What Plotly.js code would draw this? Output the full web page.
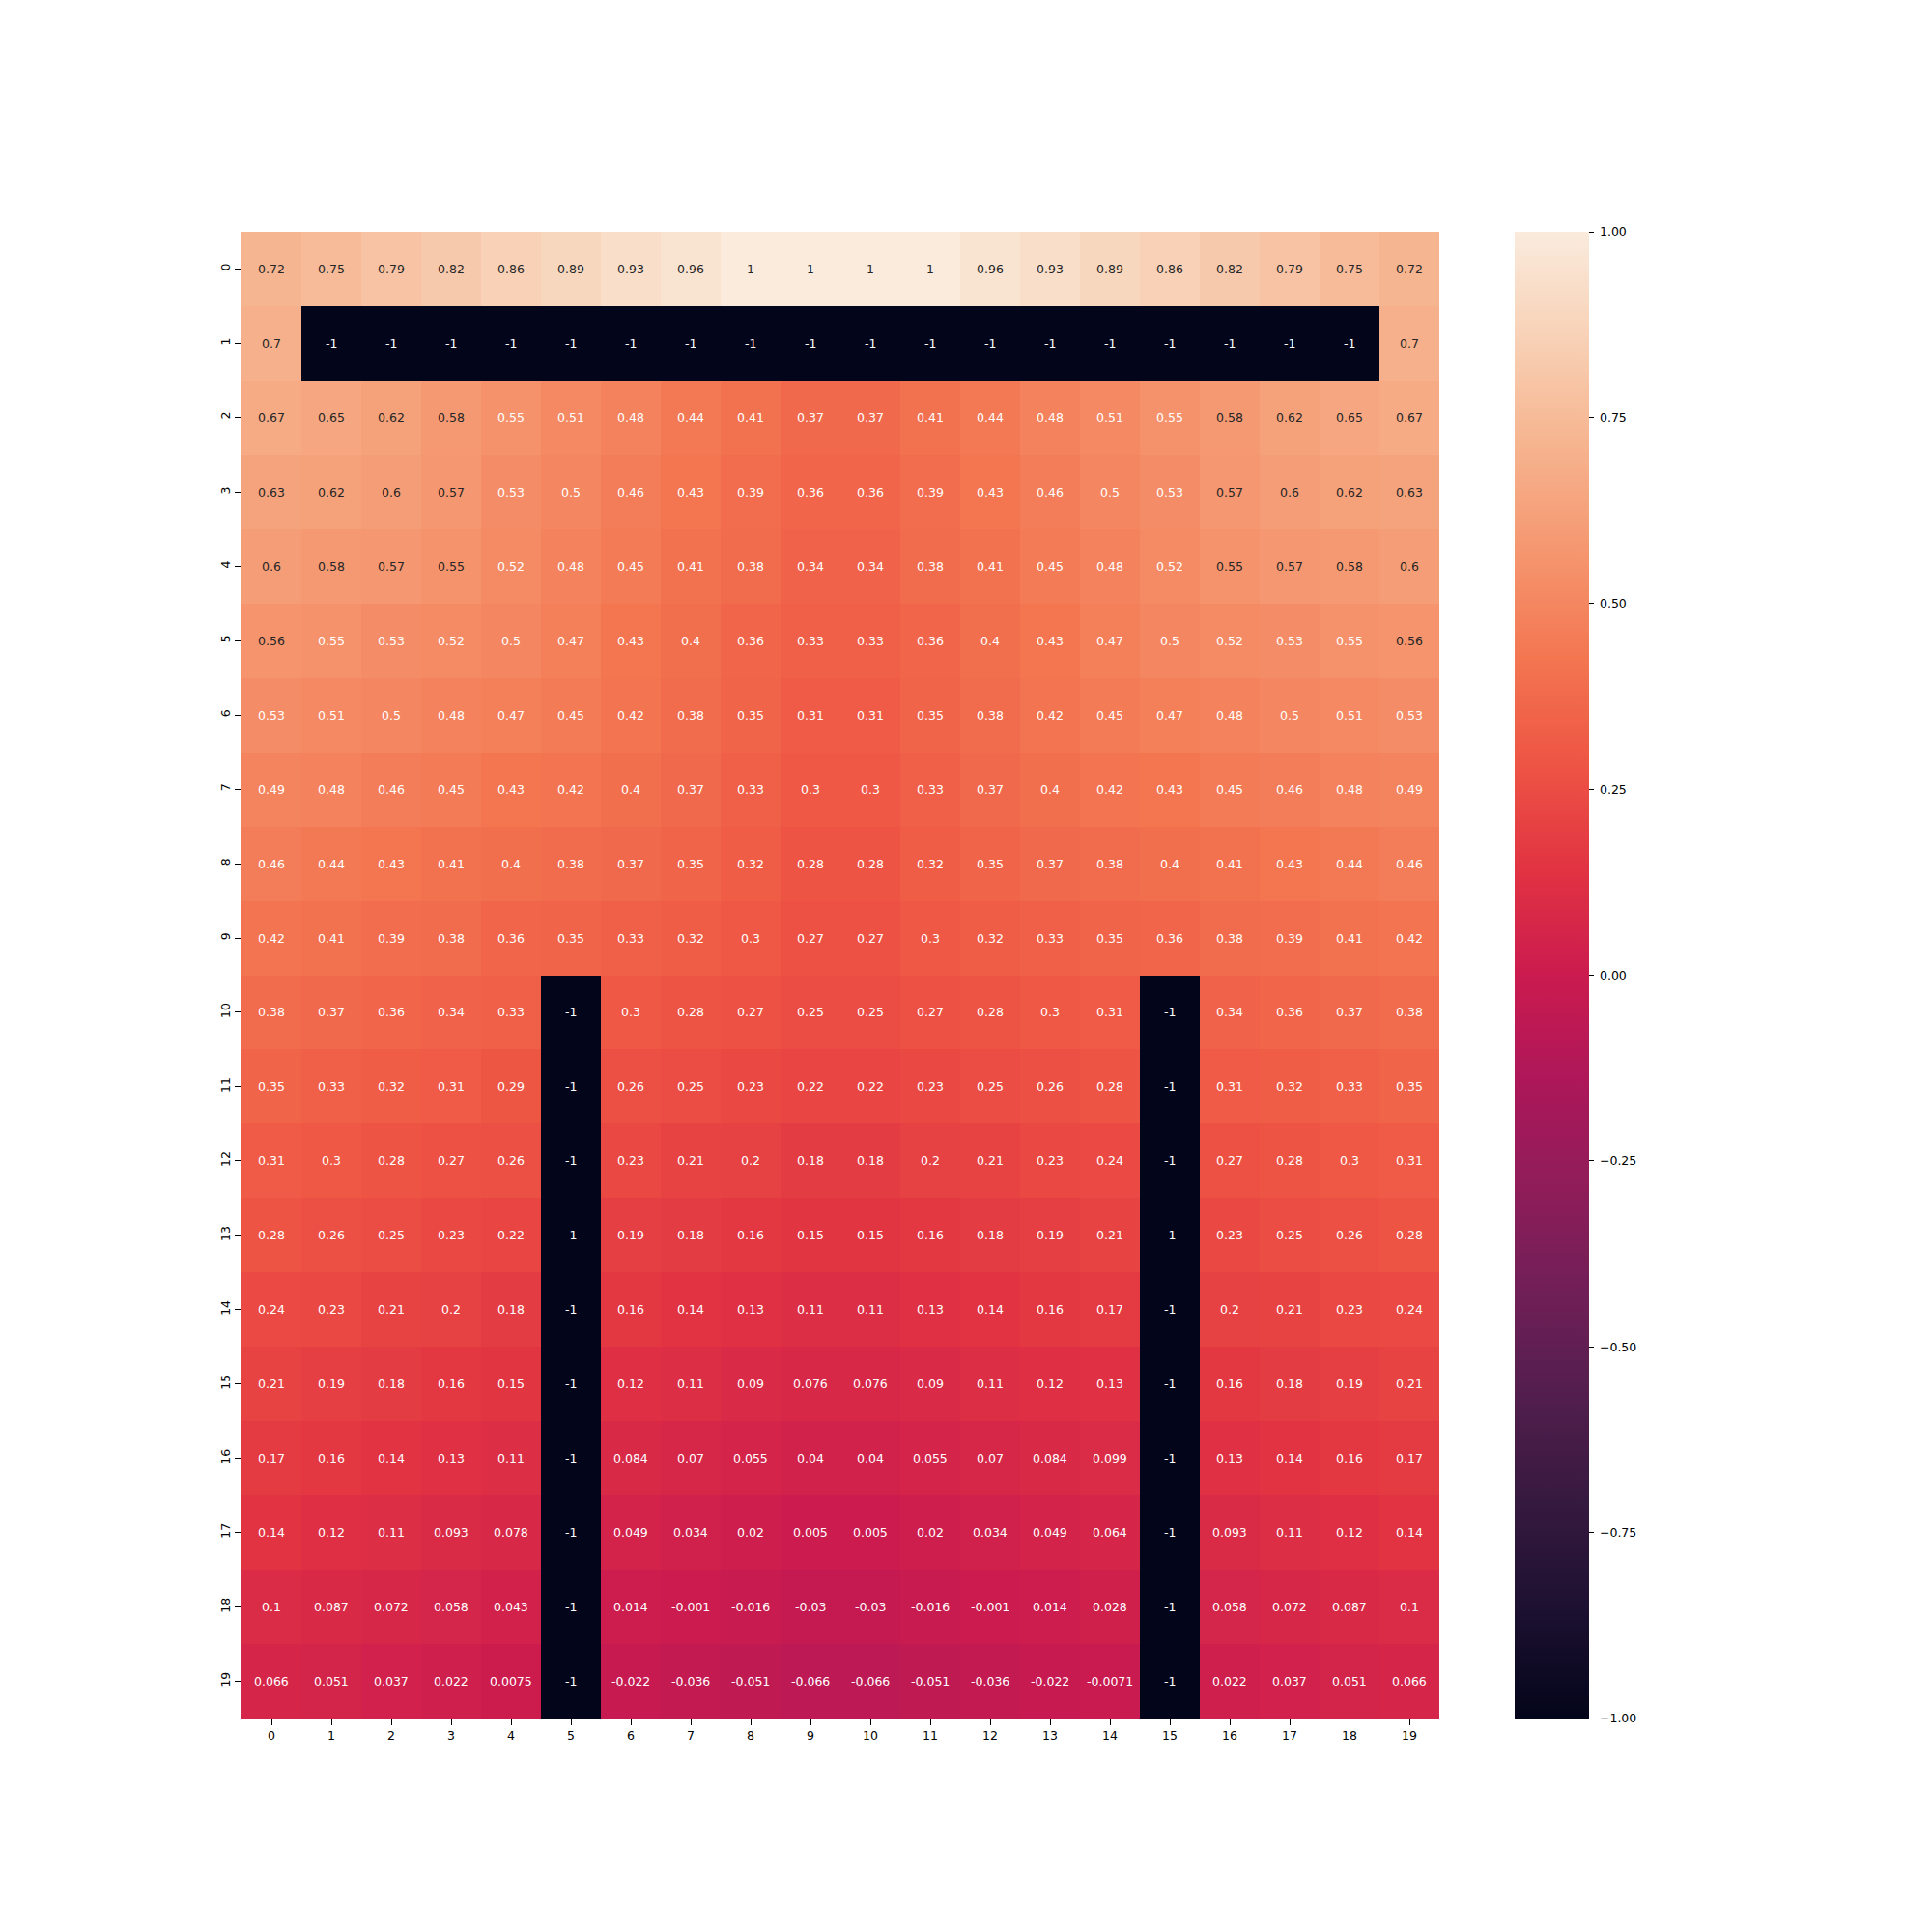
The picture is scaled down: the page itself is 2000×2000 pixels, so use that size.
<!DOCTYPE html>
<html>
<head>
<meta charset="utf-8">
<script src="https://cdn.plot.ly/plotly-3.0.1.min.js"></script>
<style>html,body{margin:0;padding:0;background:#fff;}#chart{width:2000px;height:2000px;}</style>
</head>
<body>
<div id="chart"></div>
<script>
const colLabels = ["0","1","2","3","4","5","6","7","8","9","10","11","12","13","14","15","16","17","18","19"];
const rowLabels = ["0","1","2","3","4","5","6","7","8","9","10","11","12","13","14","15","16","17","18","19"];

const row0  = [0.72,0.75,0.79,0.82,0.86,0.89,0.93,0.96,1,1,1,1,0.96,0.93,0.89,0.86,0.82,0.79,0.75,0.72];
const row1  = [0.7,-1,-1,-1,-1,-1,-1,-1,-1,-1,-1,-1,-1,-1,-1,-1,-1,-1,-1,0.7];
const row2  = [0.67,0.65,0.62,0.58,0.548,0.51,0.48,0.44,0.41,0.37,0.37,0.41,0.44,0.48,0.51,0.548,0.58,0.62,0.65,0.67];
const row3  = [0.63,0.62,0.6,0.57,0.53,0.5,0.46,0.43,0.39,0.36,0.36,0.39,0.43,0.46,0.5,0.53,0.57,0.6,0.62,0.63];
const row4  = [0.6,0.58,0.57,0.553,0.52,0.48,0.45,0.41,0.38,0.34,0.34,0.38,0.41,0.45,0.48,0.52,0.553,0.57,0.58,0.6];
const row5  = [0.56,0.548,0.53,0.52,0.5,0.47,0.43,0.4,0.36,0.33,0.33,0.36,0.4,0.43,0.47,0.5,0.52,0.53,0.548,0.56];
const row6  = [0.53,0.51,0.5,0.48,0.47,0.45,0.42,0.38,0.35,0.31,0.31,0.35,0.38,0.42,0.45,0.47,0.48,0.5,0.51,0.53];
const row7  = [0.49,0.48,0.46,0.45,0.43,0.42,0.4,0.37,0.33,0.3,0.3,0.33,0.37,0.4,0.42,0.43,0.45,0.46,0.48,0.49];
const row8  = [0.46,0.44,0.43,0.41,0.4,0.38,0.37,0.35,0.32,0.28,0.28,0.32,0.35,0.37,0.38,0.4,0.41,0.43,0.44,0.46];
const row9  = [0.42,0.41,0.39,0.38,0.36,0.35,0.33,0.32,0.3,0.27,0.27,0.3,0.32,0.33,0.35,0.36,0.38,0.39,0.41,0.42];
const row10 = [0.38,0.37,0.36,0.34,0.33,-1,0.3,0.28,0.27,0.25,0.25,0.27,0.28,0.3,0.31,-1,0.34,0.36,0.37,0.38];
const row11 = [0.35,0.33,0.32,0.31,0.29,-1,0.26,0.25,0.23,0.22,0.22,0.23,0.25,0.26,0.28,-1,0.31,0.32,0.33,0.35];
const row12 = [0.31,0.3,0.28,0.27,0.26,-1,0.23,0.21,0.2,0.18,0.18,0.2,0.21,0.23,0.24,-1,0.27,0.28,0.3,0.31];
const row13 = [0.28,0.26,0.25,0.23,0.22,-1,0.19,0.18,0.16,0.15,0.15,0.16,0.18,0.19,0.21,-1,0.23,0.25,0.26,0.28];
const row14 = [0.24,0.23,0.21,0.2,0.18,-1,0.16,0.14,0.13,0.11,0.11,0.13,0.14,0.16,0.17,-1,0.2,0.21,0.23,0.24];
const row15 = [0.21,0.19,0.18,0.16,0.15,-1,0.12,0.11,0.09,0.076,0.076,0.09,0.11,0.12,0.13,-1,0.16,0.18,0.19,0.21];
const row16 = [0.17,0.16,0.14,0.13,0.11,-1,0.084,0.07,0.055,0.04,0.04,0.055,0.07,0.084,0.099,-1,0.13,0.14,0.16,0.17];
const row17 = [0.14,0.12,0.11,0.093,0.078,-1,0.049,0.034,0.02,0.005,0.005,0.02,0.034,0.049,0.064,-1,0.093,0.11,0.12,0.14];
const row18 = [0.1,0.087,0.072,0.058,0.043,-1,0.014,-0.001,-0.016,-0.03,-0.03,-0.016,-0.001,0.014,0.028,-1,0.058,0.072,0.087,0.1];
const row19 = [0.066,0.051,0.037,0.022,0.0075,-1,-0.022,-0.036,-0.051,-0.066,-0.066,-0.051,-0.036,-0.022,-0.0071,-1,0.022,0.037,0.051,0.066];

const cbTickVals = [-1,-0.75,-0.5,-0.25,0,0.25,0.5,0.75,1];
const cbTickText = ["\u22121.00","\u22120.75","\u22120.50","\u22120.25","0.00","0.25","0.50","0.75","1.00"];

const zRows = [row0,row1,row2,row3,row4,row5,row6,row7,row8,row9,row10,row11,row12,row13,row14,row15,row16,row17,row18,row19];

const rocket = [
  [0.0,'#03051a'],
  [0.071,'#1c1030'],
  [0.143,'#35193e'],
  [0.214,'#511e4d'],
  [0.286,'#701f57'],
  [0.357,'#8f1d5a'],
  [0.429,'#ad1759'],
  [0.5,'#cb1b4f'],
  [0.571,'#e13342'],
  [0.643,'#ee5544'],
  [0.714,'#f37651'],
  [0.786,'#f59770'],
  [0.857,'#f6b48f'],
  [0.929,'#f8d1b6'],
  [1.0,'#faebdd']
];

function fmt(v){ return String(parseFloat(v.toPrecision(2))); }

const annotations = [];
zRows.forEach((row, i) => {
  row.forEach((v, j) => {
    annotations.push({
      x: j, y: i, xref: 'x', yref: 'y',
      text: fmt(v), showarrow: false,
      font: {family: 'DejaVu Sans', size: 12.5, color: v >= 0.55 ? '#262626' : '#ffffff'}
    });
  });
});

const trace = {
  type: 'heatmap',
  x: colLabels.map(Number),
  y: rowLabels.map(Number),
  z: zRows,
  zmin: -1, zmax: 1,
  colorscale: rocket,
  showscale: true,
  hoverinfo: 'skip',
  colorbar: {
    x: (1568-250)/1240, xanchor: 'left', xpad: 0,
    y: 0.5, yanchor: 'middle', ypad: 0,
    len: 1, lenmode: 'fraction',
    thickness: 77, thicknessmode: 'pixels',
    outlinewidth: 0,
    ticks: 'outside', ticklen: 5, tickwidth: 1, tickcolor: '#000',
    tickmode: 'array', tickvals: cbTickVals, ticktext: cbTickText.map(t => '\u00a0' + t),
    tickfont: {family: 'DejaVu Sans', size: 12.5, color: '#000'}
  }
};

const layout = {
  width: 2000, height: 2000,
  margin: {l: 250, r: 510, t: 240, b: 221, pad: 0},
  paper_bgcolor: '#ffffff', plot_bgcolor: '#ffffff',
  showlegend: false,
  xaxis: {
    range: [-0.5, 19.5], tickmode: 'array', tickvals: colLabels.map(Number), ticktext: colLabels,
    showgrid: false, zeroline: false, showline: false,
    ticks: 'outside', ticklen: 6, tickwidth: 1, tickcolor: '#000',
    tickfont: {family: 'DejaVu Sans', size: 12.5, color: '#000'}
  },
  yaxis: {
    range: [19.5, -0.5], tickmode: 'array', tickvals: rowLabels.map(Number), ticktext: rowLabels,
    showgrid: false, zeroline: false, showline: false,
    ticks: 'outside', ticklen: 6, tickwidth: 1, tickcolor: '#000', tickangle: -90,
    tickfont: {family: 'DejaVu Sans', size: 12.5, color: '#000'}
  },
  annotations: annotations
};

Plotly.newPlot('chart', [trace], layout, {displayModeBar: false, staticPlot: true});
</script>
</body>
</html>
